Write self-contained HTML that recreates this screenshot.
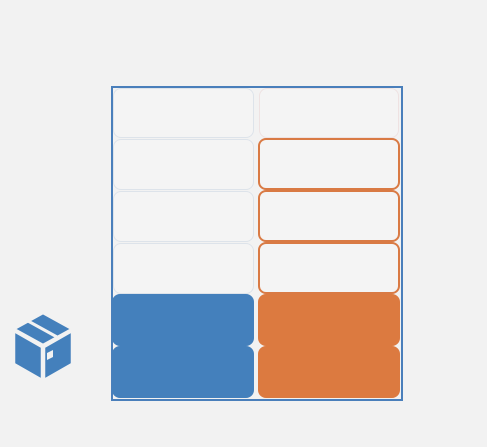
<!DOCTYPE html>
<html><head><style>
html,body{margin:0;padding:0;}
body{width:487px;height:447px;background:#f2f2f2;position:relative;overflow:hidden;font-family:"Liberation Sans",sans-serif;}
.f{position:absolute;left:111px;top:86px;width:288px;height:311px;border:2px solid #4a7fbb;}
.b{position:absolute;box-sizing:border-box;border-radius:8px;}
.w{background:#f4f4f4;border:1.5px solid #dde3ea;}
.o{background:#f4f4f4;border:2px solid #d97a44;}
.bl{background:#4480bc;}
.or{background:#dc7a40;}
</style></head><body>
<div class="f"></div>
<div class="b w" style="left:113px;top:88px;width:141px;height:50px"></div>
<div class="b w" style="left:113px;top:139px;width:141px;height:51px"></div>
<div class="b w" style="left:113px;top:191px;width:141px;height:51px"></div>
<div class="b w" style="left:113px;top:243px;width:141px;height:51px"></div>
<div class="b bl" style="left:112px;top:294px;width:142px;height:52px"></div>
<div class="b bl" style="left:112px;top:346px;width:142px;height:52px"></div>
<div class="b w" style="left:259px;top:88px;width:140px;height:50px;border-color:#eee2e2"></div>
<div class="b o" style="left:258px;top:138px;width:142px;height:52px"></div>
<div class="b o" style="left:258px;top:190px;width:142px;height:52px"></div>
<div class="b o" style="left:258px;top:242px;width:142px;height:52px"></div>
<div class="b or" style="left:258px;top:294px;width:142px;height:52px"></div>
<div class="b or" style="left:258px;top:346px;width:142px;height:52px"></div>
<svg style="position:absolute;left:0;top:0" width="487" height="447">
<g fill="#4480bc" stroke="#f2f2f2" stroke-width="2.5" stroke-linejoin="round">
<polygon points="43,313 72,329 43,345 14,329"/>
<polygon points="14,331 42,347 42,380 14,364"/>
<polygon points="44,347 72,331 72,364 44,380"/>
</g>
<line x1="28" y1="321" x2="57" y2="337" stroke="#f2f2f2" stroke-width="3"/>
<polygon points="47,353 53,350 53,357 47,360" fill="#f2f2f2"/>
</svg>
</body></html>
